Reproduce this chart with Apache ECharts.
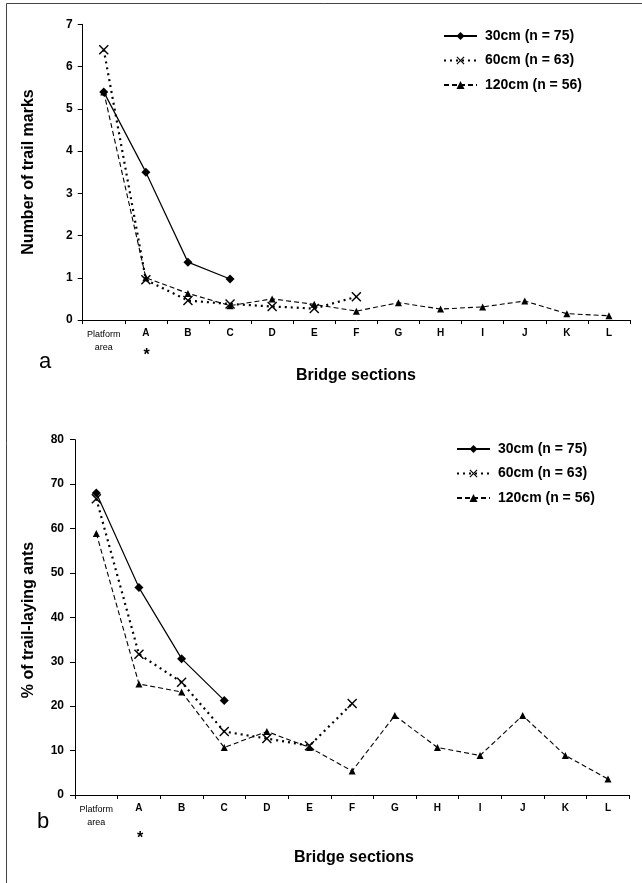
<!DOCTYPE html>
<html><head><meta charset="utf-8">
<script src="https://cdn.jsdelivr.net/npm/echarts@6/dist/echarts.min.js"></script>
<style>html,body{margin:0;padding:0;background:#fff}#c{width:642px;height:883px}</style>
</head><body><div id="c"></div>
<script>
// ---- data ----
const categories = ['Platform area','A','B','C','D','E','F','G','H','I','J','K','L'];
const seriesNames = ['30cm (n = 75)','60cm (n = 63)','120cm (n = 56)'];
// panel a: number of trail marks
const marks30  = [5.4, 3.5, 1.37, 0.97];
const marks60  = [6.4, 0.95, 0.46, 0.38, 0.32, 0.27, 0.55];
const marks120 = [5.4, 1.0, 0.63, 0.34, 0.5, 0.37, 0.21, 0.41, 0.26, 0.31, 0.45, 0.15, 0.1];
// panel b: % of trail-laying ants
const pct30  = [68.0, 46.7, 30.7, 21.3];
const pct60  = [66.7, 31.7, 25.4, 14.3, 12.7, 11.1, 20.6];
const pct120 = [58.9, 25.0, 23.2, 10.7, 14.3, 10.7, 5.4, 17.9, 10.7, 8.9, 17.9, 8.9, 3.6];
const yTop = {min: 0, max: 7, interval: 1};
const yBottom = {min: 0, max: 80, interval: 10};
const titles = {yTop: 'Number of trail marks', yBottom: '% of trail-laying ants', x: 'Bridge sections'};

const FONT = '"Liberation Sans", Arial, sans-serif';
const crossPath = 'path://M0,1 L1,0 L5,4 L9,0 L10,1 L6,5 L10,9 L9,10 L5,6 L1,10 L0,9 L4,5 Z';

const styles = [
  {symbol: 'diamond', symbolSize: 9, lineStyle: {type: 'solid', width: 1.2}},
  {symbol: crossPath, symbolSize: 10, lineStyle: {type: [2, 4], width: 2.2}},
  {symbol: 'triangle', symbolSize: 7, lineStyle: {type: [5, 3], width: 1.1}}
];

function mkSeries(name, data, idx, styleIdx, z) {
  const s = styles[styleIdx];
  return {
    name: name, type: 'line', data: data,
    xAxisIndex: idx, yAxisIndex: idx,
    symbol: s.symbol, symbolSize: s.symbolSize, showSymbol: true,
    itemStyle: {color: '#000'},
    lineStyle: Object.assign({color: '#000', cap: 'butt'}, s.lineStyle),
    emphasis: {disabled: true}, animation: false, z: z
  };
}

function xAxisFor(idx) {
  return {
    type: 'category', gridIndex: idx, data: categories, boundaryGap: true,
    axisLine: {lineStyle: {color: '#000', width: 1}},
    axisTick: {show: true, length: 4, lineStyle: {color: '#000'}, alignWithLabel: false},
    axisLabel: {
      interval: 0, margin: 8, color: '#000', fontFamily: FONT,
      formatter: function (v) {
        if (v === 'Platform area') return '{p|Platform}\n{p|area}';
        return '{l|' + v + '}';
      },
      rich: {
        p: {fontSize: 9, fontFamily: FONT, color: '#000', lineHeight: 13},
        l: {fontSize: 10, fontWeight: 'bold', fontFamily: FONT, color: '#000'}
      }
    },
    splitLine: {show: false}
  };
}
function yAxisFor(idx, cfg, margin) {
  return {
    type: 'value', gridIndex: idx, min: cfg.min, max: cfg.max, interval: cfg.interval,
    axisLine: {show: true, lineStyle: {color: '#000', width: 1}},
    axisTick: {show: true, length: 5, lineStyle: {color: '#000'}},
    axisLabel: {color: '#000', fontSize: 12, fontWeight: 'bold', fontFamily: FONT, margin: margin},
    splitLine: {show: false}
  };
}

function legendAt(left, top) {
  return {
    data: seriesNames, orient: 'vertical', left: left, top: top,
    itemWidth: 33, itemHeight: 10, itemGap: 10.5,
    textStyle: {fontSize: 14, fontWeight: 'bold', fontFamily: FONT, color: '#000', lineHeight: 14, padding: [0, 0, 0, 3]},
    selectedMode: false, inactiveColor: '#000'
  };
}

const chart = echarts.init(document.getElementById('c'), null, {renderer: 'canvas'});
chart.setOption({
  backgroundColor: '#fff',
  animation: false,
  grid: [
    {left: 82.7, top: 24.3, width: 547.3, height: 295.7},
    {left: 75, top: 439.7, width: 554.3, height: 355.3}
  ],
  xAxis: [xAxisFor(0), xAxisFor(1)],
  yAxis: [yAxisFor(0, yTop, 10), yAxisFor(1, yBottom, 11)],
  legend: [legendAt(438, 24), legendAt(451, 437)],
  series: [
    mkSeries(seriesNames[2], marks120, 0, 2, 2),
    mkSeries(seriesNames[1], marks60, 0, 1, 3),
    mkSeries(seriesNames[0], marks30, 0, 0, 4),
    mkSeries(seriesNames[2], pct120, 1, 2, 2),
    mkSeries(seriesNames[1], pct60, 1, 1, 3),
    mkSeries(seriesNames[0], pct30, 1, 0, 4)
  ],
  graphic: [
    {type: 'line', shape: {x1: 6.5, y1: 3.5, x2: 642, y2: 3.5}, style: {stroke: '#444', lineWidth: 1}, silent: true},
    {type: 'line', shape: {x1: 6.5, y1: 3.5, x2: 6.5, y2: 883}, style: {stroke: '#444', lineWidth: 1}, silent: true},
    {type: 'text', x: 29, y: 172, rotation: Math.PI / 2,
      style: {text: titles.yTop, font: 'bold 16px ' + FONT, fill: '#000', textAlign: 'center', textVerticalAlign: 'middle'}},
    {type: 'text', x: 29, y: 620, rotation: Math.PI / 2,
      style: {text: titles.yBottom, font: 'bold 16px ' + FONT, fill: '#000', textAlign: 'center', textVerticalAlign: 'middle'}},
    {type: 'text', x: 356, y: 376,
      style: {text: titles.x, font: 'bold 16px ' + FONT, fill: '#000', textAlign: 'center', textVerticalAlign: 'middle'}},
    {type: 'text', x: 354, y: 858,
      style: {text: titles.x, font: 'bold 16px ' + FONT, fill: '#000', textAlign: 'center', textVerticalAlign: 'middle'}},
    {type: 'text', x: 45, y: 362,
      style: {text: 'a', font: '22px ' + FONT, fill: '#000', textAlign: 'center', textVerticalAlign: 'middle'}},
    {type: 'text', x: 43, y: 822,
      style: {text: 'b', font: '22px ' + FONT, fill: '#000', textAlign: 'center', textVerticalAlign: 'middle'}},
    {type: 'text', x: 146.5, y: 356,
      style: {text: '*', font: 'bold 16px ' + FONT, fill: '#000', textAlign: 'center', textVerticalAlign: 'middle'}},
    {type: 'text', x: 140, y: 839,
      style: {text: '*', font: 'bold 16px ' + FONT, fill: '#000', textAlign: 'center', textVerticalAlign: 'middle'}}
  ]
});
</script>
</body></html>
